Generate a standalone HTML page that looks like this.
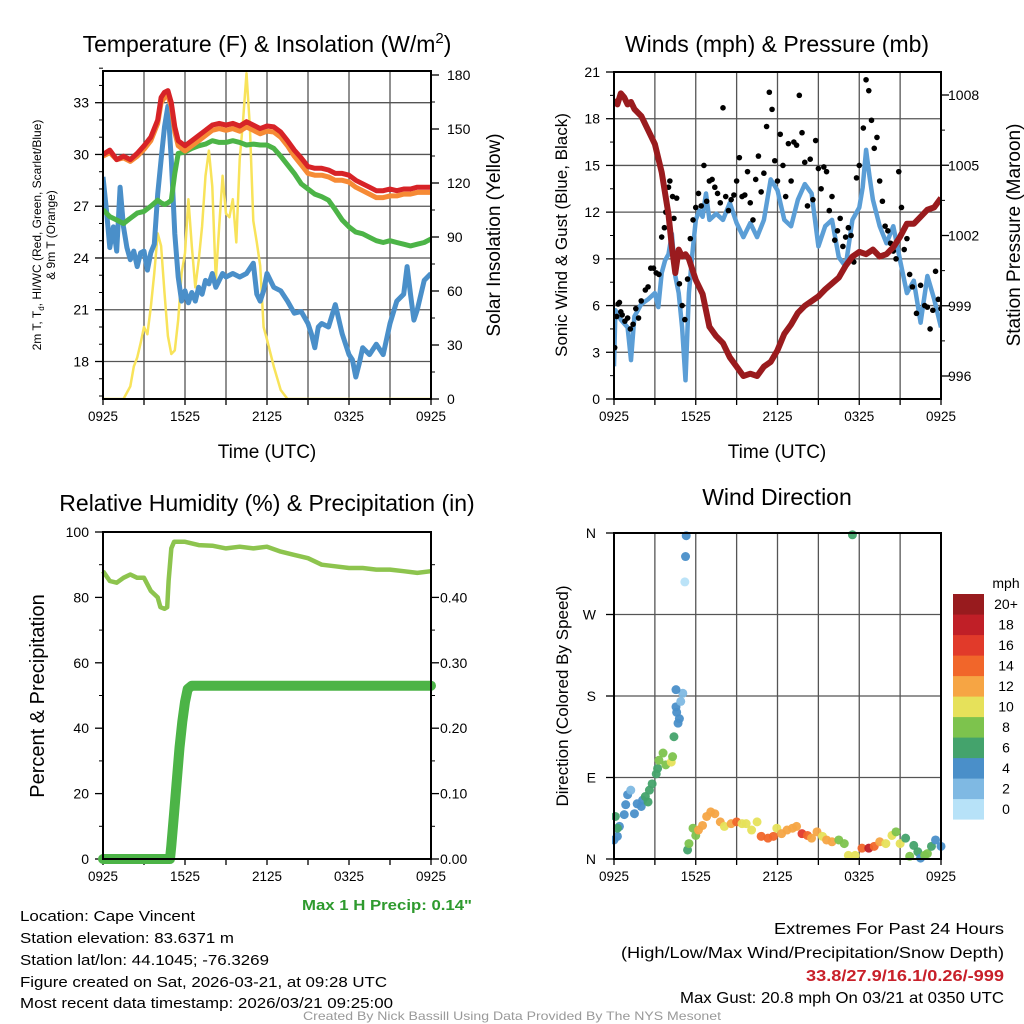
<!DOCTYPE html>
<html><head><meta charset="utf-8"><style>
body{margin:0;background:#fff}
svg{display:block;font-family:"Liberation Sans",sans-serif}
</style></head><body>
<svg id="fig" width="1024" height="1024" viewBox="0 0 1024 1024" xmlns="http://www.w3.org/2000/svg">
<rect width="1024" height="1024" fill="#fff"/>
<g id="g1"></g>
<g id="g2"></g>
<g id="g3"></g>
<g id="g4"></g>
<g id="foot"></g>
</svg>
<script>
// ---------- DATA ----------
const xTickLabels = ["0925","1525","2125","0325","0925"];
// Temperature panel (hours since 0925)
const tempHours = [0,0.5,1,1.5,2,2.5,3,3.5,4,4.25,4.5,4.75,5,5.25,5.5,6,6.5,7,7.5,8,8.5,9,9.5,10,10.5,11,11.5,12,12.5,13,13.5,14,14.5,15,15.5,16,16.5,17,17.5,18,18.5,19,19.5,20,20.5,21,21.5,22,22.5,23,23.5,24];
const tempRed = [30,30.25,29.7,29.9,29.7,30.06,30.5,31,32,33.3,33.6,33.7,33,31.6,30.8,30.5,30.8,31.1,31.4,31.7,31.8,31.7,31.8,31.65,31.9,31.7,31.5,31.65,31.6,31.3,30.8,30.25,29.8,29.3,29.2,29.2,29.1,28.9,28.9,28.8,28.5,28.3,28.1,27.9,27.9,28,27.9,28,28,28.1,28.1,28.1];
const tempOrange = [29.9,30.1,29.7,29.8,29.6,29.9,30.3,30.8,31.8,33.0,33.3,33.4,32.8,31.3,30.5,30.2,30.5,30.8,31.1,31.4,31.5,31.4,31.5,31.35,31.6,31.4,31.2,31.35,31.3,31.0,30.5,29.9,29.4,28.9,28.8,28.8,28.7,28.5,28.5,28.4,28.1,27.9,27.7,27.5,27.5,27.6,27.6,27.7,27.7,27.8,27.8,27.8];
const tempGreen = [26.8,26.4,26.2,26,26.3,26.6,26.7,27,27.35,27.2,27.1,27.2,27.35,28.9,30.06,30.15,30.35,30.5,30.6,30.8,30.7,30.7,30.8,30.7,30.55,30.6,30.55,30.55,30.35,29.9,29.4,28.9,28.3,28,27.7,27.55,27.35,26.8,26.2,25.8,25.5,25.4,25.2,25,24.9,25,24.9,24.8,24.7,24.8,24.9,25.1];
const blueHours = [0,0.25,0.5,0.75,1,1.25,1.5,1.75,2,2.25,2.5,2.75,3,3.25,3.5,3.75,4,4.25,4.5,4.75,5,5.25,5.5,5.75,6,6.25,6.5,6.75,7,7.25,7.5,7.75,8,8.25,8.5,8.75,9,9.5,10,10.5,11,11.25,11.5,11.75,12,12.5,13,13.5,14,14.5,15,15.25,15.5,15.75,16,16.5,17,17.5,18,18.25,18.5,18.75,19,19.5,20,20.5,21,21.5,22,22.25,22.5,22.75,23,23.5,24];
const tempBlue = [28.7,26.8,24.6,25.8,24.4,28.1,25.8,24.6,23.9,24.4,23.5,24.3,24.4,23.3,24.3,24.8,27.7,29.7,31.6,32.8,29.7,25.4,22.9,21.5,22.1,21.4,22,21.5,22.3,21.9,22.7,22.5,23.1,22.3,22.7,23.1,22.9,23.1,22.9,23.1,23.7,21.9,21.5,22.1,23.1,22.3,22.1,21.5,20.8,20.9,20.2,19.6,18.8,20,20.2,20,21.3,19.6,18.4,18.1,17.1,17.9,18.8,18.4,19,18.4,20.2,21.5,21.9,23.5,21.9,20.4,21,22.7,23.1];
const solarHours = [0,1.5,2,2.25,2.5,2.75,3,3.25,3.5,3.75,4,4.25,4.5,4.75,5,5.25,5.5,5.75,6,6.25,6.5,6.75,7,7.25,7.5,7.75,8,8.25,8.5,8.75,9,9.25,9.5,9.75,10,10.25,10.5,10.75,11,11.25,11.5,11.75,12,12.5,13,13.5,24];
const solar = [0,0,7,18,23,31,40,36,51,70,92,85,59,35,25,27,44,70,81,111,85,62,77,96,124,138,118,66,96,124,103,101,111,87,133,155,181,151,99,87,74,40,33,18,5,0,0];
const tempTicks = [18,21,24,27,30,33];
const solarTicks = [0,30,60,90,120,150,180];
// Winds panel
const presHours = [0,0.25,0.5,0.75,1,1.25,1.5,2,2.5,3,3.5,4,4.25,4.5,4.75,5,5.25,5.5,6,6.5,7,7.5,8,8.5,9,9.5,10,10.5,11,11.5,12,12.5,13,13.5,14,14.5,15,15.5,16,16.5,17,17.5,18,18.5,19,19.5,20,20.5,21,21.5,22,22.5,23,23.5,24];
const pressure = [1007.8,1007.6,1008.07,1007.9,1007.6,1007.7,1007.4,1007.1,1006.5,1005.9,1004.7,1002.9,1001.5,1000.4,1001.4,1001.1,1001.2,1001,1000.1,999.5,998.1,997.7,997.4,996.8,996.4,996,996.1,996,996.4,996.6,997.1,997.8,998.2,998.7,999,999.2,999.4,999.7,999.95,1000.2,1000.7,1001.1,1001.3,1001.2,1001.4,1001.1,1001.2,1001.5,1001.95,1002.5,1002.5,1002.8,1003.1,1003.2,1003.6];
const windHours = [0,0.1,0.5,1,1.25,1.5,2,2.5,3,3.25,3.5,3.75,4,4.25,4.5,4.75,5,5.25,5.5,5.75,6,6.25,6.5,6.75,7,7.5,8,8.5,9,9.5,10,10.5,11,11.25,11.5,12,12.5,13,13.5,14,14.5,15,15.5,16,16.5,17,17.5,18,18.25,18.5,18.75,19,19.5,20,20.5,21,21.5,22,22.5,23,23.5,24];
const windSpeed = [2.1,5.7,5.1,4.6,2.5,5.3,6.1,6.4,6.8,5.9,8.1,8.9,9.3,10.6,7.9,6.8,4.6,1.2,6.8,9.3,11.5,12.1,11.7,13.2,11.5,11.9,11.5,12.6,11.3,10.4,11.3,10.4,11.5,12.8,14.1,13.4,11.5,11.1,12.8,13.8,13.2,9.8,11.1,11.5,9.1,8.5,11.5,12.3,13.6,16,14.3,12.8,11.1,10,11.1,8.9,6.8,7.6,4.9,7.9,6.4,4.6];
const gustHours = [0.05,0.2,0.3,0.4,0.5,0.6,0.8,1,1.2,1.4,1.6,1.8,2,2.3,2.5,2.7,2.9,3.1,3.3,3.5,3.7,3.8,4,4.1,4.3,4.4,4.6,4.8,5,5.2,5.4,5.6,5.8,6,6.2,6.4,6.6,6.8,7,7.2,7.4,7.6,7.8,8,8.2,8.4,8.6,8.8,9,9.2,9.4,9.6,9.8,10,10.2,10.4,10.6,10.8,11,11.2,11.4,11.6,11.8,12,12.2,12.4,12.6,12.8,13,13.2,13.4,13.6,13.8,14,14.2,14.4,14.6,14.8,15,15.2,15.4,15.6,15.8,16,16.2,16.4,16.6,16.8,17,17.2,17.4,17.6,17.8,18,18.3,18.5,18.7,18.9,19.1,19.3,19.5,19.7,19.9,20.1,20.3,20.5,20.7,20.9,21.1,21.3,21.5,21.7,21.9,22.2,22.5,22.8,23,23.2,23.4,23.6,23.8,24];
const gusts = [3.3,5.3,6.1,6.2,5.6,5.4,5,5.2,4.5,4.8,5.8,5.2,6.3,7,7.2,8.4,8.4,8.1,8,10.4,11,12,13.6,14,13,11.6,12.9,7.4,6,5.1,7.7,10.3,11.5,12.3,13.2,12.4,15,12.7,14,14.1,13.6,13.2,12.6,18.7,13,12.1,12.8,13.1,14,15.5,13,13.1,14.6,12.6,11.5,14.1,15.6,13.3,14.5,17.5,19.7,18.6,15.3,14,17,15,13,16.4,14,16.5,16.3,19.5,17.1,15.2,12.4,15.4,12.8,16.6,14.8,13.5,14.9,14.6,12.1,13,10.2,10.8,11.6,9.8,10.4,11,10.5,8.8,14.2,15,17.4,20.5,19.8,17.9,16.1,16.8,14,12.7,11.1,10.8,10,9.5,9,14.6,12.3,9.6,10.3,8,7.2,5.5,7.3,6,5.9,4.5,5.7,8.2,6.4,5.8];
const windTicks = [0,3,6,9,12,15,18,21];
const presTicks = [996,999,1002,1005,1008];
// RH / precip panel
const rhHours = [0,0.5,1,1.5,2,2.5,3,3.5,4,4.2,4.5,4.7,4.8,5,5.2,6,7,8,9,10,11,12,13,14,15,16,17,18,19,20,21,22,23,24];
const rh = [88,85,84.5,86,87,86,86,82,80,77,76.5,77,85,95,97,97,96,95.8,95,95.5,95,95.5,94,93,92,90,89.5,89,89,88.5,88.5,88,87.5,88];
const precipHours = [0,4.9,5,5.2,5.4,5.6,5.8,6,6.2,6.5,24];
const precip = [0,0,0.02,0.07,0.12,0.17,0.21,0.24,0.26,0.265,0.265];
const rhTicks = [0,20,40,60,80,100];
const precipTicks = ["0.00","0.10","0.20","0.30","0.40"];
// Wind direction panel
const dirHours = [0,0.25,0.4,0.1,0.25,0.75,0.86,1,1.23,1.5,1.7,2,2.1,2.3,2.5,2.6,2.8,3.1,3.2,3.3,3.6,3.8,4.2,4.3,4.4,4.7,4.8,4.6,4.55,4.9,5.05,4.55,5.2,5.25,5.3,17.5,5.4,5.5,5.8,6,6.2,6.5,6.8,7.1,7.4,7.8,8.1,8.6,9,9.4,9.7,10.1,10.5,10.8,11.3,11.7,11.95,12.3,12.7,13.1,13.4,13.8,14.2,14.5,14.9,15.3,15.6,16,16.5,16.9,17.2,17.7,18.2,18.7,19.1,19.5,19.95,20.4,20.7,21,21.4,21.7,22,22.3,22.5,22.8,23,23.3,23.6,24];
const dirDeg = [21,25,36,47,34,49,60,71,76,50,61,58,65,69,63,76,83,94,100,109,117,104,107,113,135,150,155,162,168,174,183,187,306,334,357,358,10,17,34,26,32,37,47,52,50,41,36,39,41,39,39,32,41,25,23,25,34,28,32,34,36,28,26,23,30,25,21,19,21,17,4,4,12,12,14,19,17,26,30,17,23,3,15,8,1,4,6,14,21,14];
const dirSpeed = [4,4,4,6,6,4,4,4,2,4,4,4,4,6,6,6,6,6,6,8,8,8,10,8,6,4,4,4,4,2,2,4,0,4,4,6,6,8,8,8,12,12,12,12,12,12,10,12,14,10,10,10,10,14,14,14,10,12,12,12,12,16,14,12,12,10,12,12,8,8,10,10,14,18,14,12,10,10,8,10,6,8,6,6,4,8,8,6,4,4];
const speedColors = ["#b7e2f8","#7fb9e3","#4a8fc9","#44a36c","#7dc34d","#e6e15a","#f6a544","#f1662a","#e13a2a","#c01f27","#981b1e"];
const speedLabels = ["0","2","4","6","8","10","12","14","16","18","20+"];
const dirLabels = ["N","E","S","W","N"];

// ---------- HELPERS ----------
const NS="http://www.w3.org/2000/svg";
function mk(parent,tag,attrs,txt){const e=document.createElementNS(NS,tag);for(const k in attrs)e.setAttribute(k,attrs[k]);if(txt!==undefined)e.textContent=txt;parent.appendChild(e);return e;}
function lin(d0,d1,r0,r1){return v=>r0+(v-d0)/(d1-d0)*(r1-r0);}
function pathFrom(xs,ys,fx,fy){return xs.map((h,i)=>(i?"L":"M")+fx(h).toFixed(1)+","+fy(ys[i]).toFixed(1)).join("");}
function txt(parent,x,y,s,size,anchor,extra){const a=Object.assign({x:x,y:y,"font-size":size,"text-anchor":anchor||"middle",fill:"#000"},extra||{});return mk(parent,"text",a,s);}

function frame(g,L,T,R,B,opts){
  const fx=lin(0,24,L,R);
  // vertical grid
  if(opts.vgrid){for(let h=3;h<24;h+=3){const l=mk(g,"line",{x1:fx(h),x2:fx(h),y1:T,y2:B,stroke:"#555","stroke-width":1.3});
    
    }}
  // x ticks
  for(let h=0;h<=24;h+=3){mk(g,"line",{x1:fx(h),x2:fx(h),y1:B,y2:B+6,stroke:"#000","stroke-width":1.3});}
  xTickLabels.forEach((s,i)=>{const t=txt(g,fx(i*6),B+22,s,14,"middle",{textLength:30,lengthAdjust:"spacingAndGlyphs"});
    
    });
  return fx;
}
function box(g,L,T,R,B){const r=mk(g,"rect",{x:L,y:T,width:R-L,height:B-T,fill:"none",stroke:"#000","stroke-width":2});
  
  }

// ---------- PANEL 1 ----------
(function(){
  const g=document.getElementById("g1");const L=103,T=71,R=431,B=399;
  const fy=lin(33,18,102.7,361.5), fs=lin(0,180,399,75);
  const fx=frame(g,L,T,R,B,{vgrid:true});
  tempTicks.forEach(v=>{mk(g,"line",{x1:L,x2:R,y1:fy(v),y2:fy(v),stroke:"#555","stroke-width":1.3});
    mk(g,"line",{x1:L-8,x2:L,y1:fy(v),y2:fy(v),stroke:"#000","stroke-width":1.3});
    const t=txt(g,L-14,fy(v)+5,String(v),14,"end");
    
    });
  for(let v=16;v<=35;v++){if(v%3)mk(g,"line",{x1:L-4,x2:L,y1:fy(v),y2:fy(v),stroke:"#000","stroke-width":1});}
  solarTicks.forEach(v=>{mk(g,"line",{x1:R,x2:R+8,y1:fs(v),y2:fs(v),stroke:"#000","stroke-width":1.3});
    const t=txt(g,R+16,fs(v)+5,String(v),14,"start");
    
    });
  for(let v=15;v<180;v+=30)mk(g,"line",{x1:R,x2:R+4,y1:fs(v),y2:fs(v),stroke:"#000","stroke-width":1});
  const cp=mk(g,"clipPath",{id:"c1"});mk(cp,"rect",{x:L,y:T,width:R-L,height:B-T});
  const s=mk(g,"g",{"clip-path":"url(#c1)"});
  const ys=mk(s,"path",{d:pathFrom(solarHours,solar,fx,fs),fill:"none",stroke:"#f8e35a","stroke-width":2.5,"stroke-linejoin":"round"});
  
  
  const gb=mk(s,"path",{d:pathFrom(blueHours,tempBlue,fx,fy),fill:"none",stroke:"#4a8fc9","stroke-width":5,"stroke-linejoin":"round"});
  
  
  const gg=mk(s,"path",{d:pathFrom(tempHours,tempGreen,fx,fy),fill:"none",stroke:"#4cb447","stroke-width":5,"stroke-linejoin":"round"});
  
  
  const go=mk(s,"path",{d:pathFrom(tempHours,tempOrange,fx,fy),fill:"none",stroke:"#f68a35","stroke-width":5,"stroke-linejoin":"round"});
  
  
  const gr=mk(s,"path",{d:pathFrom(tempHours,tempRed,fx,fy),fill:"none",stroke:"#d72327","stroke-width":5,"stroke-linejoin":"round"});
  
  
  box(g,L,T,R,B);
  const t1=mk(g,"text",{x:267,y:52,"font-size":23,"text-anchor":"middle"});
  t1.textContent="Temperature (F) & Insolation (W/m";
  mk(t1,"tspan",{dy:-9,"font-size":15},"2");mk(t1,"tspan",{dy:9},")");
  
  
  const yl=mk(g,"text",{x:0,y:0,"font-size":12,"text-anchor":"middle",transform:"translate(41,235) rotate(-90)"});
  yl.textContent="2m T, T";mk(yl,"tspan",{"font-size":8,dy:3},"d");mk(yl,"tspan",{dy:-3},", HI/WC (Red, Green, Scarlet/Blue)");
  
  
  const yl2=mk(g,"text",{x:0,y:0,"font-size":12,"text-anchor":"middle",transform:"translate(55,235) rotate(-90)"},"& 9m T (Orange)");
  
  
  const yr=mk(g,"text",{x:0,y:0,"font-size":19,"text-anchor":"middle",transform:"translate(500,235) rotate(-90)"},"Solar Insolation (Yellow)");
  
  
  const xl=txt(g,267,458,"Time (UTC)",19);
  
  
})();

// ---------- PANEL 2 ----------
(function(){
  const g=document.getElementById("g2");const L=614,T=72,R=941,B=399;
  const fy=lin(0,21,399,72), fp=lin(1008,996,95,376);
  const fx=frame(g,L,T,R,B,{vgrid:true});
  windTicks.forEach(v=>{if(v>0&&v<21)mk(g,"line",{x1:L,x2:R,y1:fy(v),y2:fy(v),stroke:"#555","stroke-width":1.3});
    mk(g,"line",{x1:L-8,x2:L,y1:fy(v),y2:fy(v),stroke:"#000","stroke-width":1.3});
    const t=txt(g,L-14,fy(v)+5,String(v),14,"end");
    
    });
  for(let v=1.5;v<21;v+=3)mk(g,"line",{x1:L-4,x2:L,y1:fy(v),y2:fy(v),stroke:"#000","stroke-width":1});
  presTicks.forEach(v=>{mk(g,"line",{x1:R,x2:R+8,y1:fp(v),y2:fp(v),stroke:"#000","stroke-width":1.3});
    const t=txt(g,R+7,fp(v)+5,String(v),14,"start");
    
    });
  for(let v=997.5;v<1008;v+=3)mk(g,"line",{x1:R,x2:R+4,y1:fp(v),y2:fp(v),stroke:"#000","stroke-width":1});
  const cp=mk(g,"clipPath",{id:"c2"});mk(cp,"rect",{x:L,y:T-8,width:R-L,height:B-T+8});
  const s=mk(g,"g",{"clip-path":"url(#c2)"});
  const wl=mk(s,"path",{d:pathFrom(windHours,windSpeed,fx,fy),fill:"none",stroke:"#5b9ed6","stroke-width":4.5,"stroke-linejoin":"round"});
  
  
  gustHours.forEach((h,i)=>{const c=mk(s,"circle",{cx:fx(h),cy:fy(gusts[i]),r:2.8,fill:"#000"});
    
    });
  const pl=mk(s,"path",{d:pathFrom(presHours,pressure,fx,fp),fill:"none",stroke:"#9a1b1e","stroke-width":6,"stroke-linejoin":"round"});
  
  
  box(g,L,T,R,B);
  const t=txt(g,777,52,"Winds (mph) & Pressure (mb)",23);
  
  
  const yl=mk(g,"text",{x:0,y:0,"font-size":17,"text-anchor":"middle",transform:"translate(567,235) rotate(-90)"},"Sonic Wind & Gust (Blue, Black)");
  
  
  const yr=mk(g,"text",{x:0,y:0,"font-size":19,"text-anchor":"middle",transform:"translate(1020,235) rotate(-90)"},"Station Pressure (Maroon)");
  
  
  const xl=txt(g,777,458,"Time (UTC)",19);
  
  
})();

// ---------- PANEL 3 ----------
(function(){
  const g=document.getElementById("g3");const L=103,T=532,R=431,B=859;
  const fy=lin(0,100,859,532), fp=lin(0,0.5,859,532);
  const fx=frame(g,L,T,R,B,{vgrid:false});
  rhTicks.forEach(v=>{mk(g,"line",{x1:L-8,x2:L,y1:fy(v),y2:fy(v),stroke:"#000","stroke-width":1.3});
    const t=txt(g,L-14,fy(v)+5,String(v),14,"end");
    
    });
  for(let v=10;v<100;v+=20)mk(g,"line",{x1:L-4,x2:L,y1:fy(v),y2:fy(v),stroke:"#000","stroke-width":1});
  precipTicks.forEach(s=>{const v=parseFloat(s);mk(g,"line",{x1:R,x2:R+8,y1:fp(v),y2:fp(v),stroke:"#000","stroke-width":1.3});
    const t=txt(g,R+9,fp(v)+5,s,14,"start");
    
    });
  for(let v=0.05;v<0.5;v+=0.1)mk(g,"line",{x1:R,x2:R+4,y1:fp(v),y2:fp(v),stroke:"#000","stroke-width":1});
  const pr=mk(g,"path",{d:pathFrom(precipHours,precip,fx,fp),fill:"none",stroke:"#4cb447","stroke-width":10,"stroke-linejoin":"round","stroke-linecap":"round"});
  
  
  const rl=mk(g,"path",{d:pathFrom(rhHours,rh,fx,fy),fill:"none",stroke:"#8dc44e","stroke-width":4.5,"stroke-linejoin":"round"});
  
  
  box(g,L,T,R,B);
  const t=txt(g,267,511,"Relative Humidity (%) & Precipitation (in)",23);
  
  
  const yl=mk(g,"text",{x:0,y:0,"font-size":20,"text-anchor":"middle",transform:"translate(44,696) rotate(-90)"},"Percent & Precipitation");
  
  
})();

// ---------- PANEL 4 ----------
(function(){
  const g=document.getElementById("g4");const L=614,T=533,R=941,B=859;
  const fy=lin(0,360,859,533);
  const fx=frame(g,L,T,R,B,{vgrid:true});
  dirLabels.forEach((s,i)=>{const v=i*90;if(i>0&&i<4)mk(g,"line",{x1:L,x2:R,y1:fy(v),y2:fy(v),stroke:"#555","stroke-width":1.3});
    mk(g,"line",{x1:L-8,x2:L,y1:fy(v),y2:fy(v),stroke:"#000","stroke-width":1.3});
    const t=txt(g,L-18,fy(v)+5,s,14,"end");
    
    });
  const cp=mk(g,"clipPath",{id:"c4"});mk(cp,"rect",{x:L-2,y:T-8,width:R-L+10,height:B-T+12});
  const s=mk(g,"g",{"clip-path":"url(#c4)"});
  dirHours.forEach((h,i)=>{const ci=Math.min(10,Math.round(dirSpeed[i]/2));
    const c=mk(s,"circle",{cx:fx(h),cy:fy(dirDeg[i]),r:4.5,fill:speedColors[ci],"fill-opacity":0.95});
    
    });
  box(g,L,T,R,B);
  const t=txt(g,777,505,"Wind Direction",23);
  
  
  const yl=mk(g,"text",{x:0,y:0,"font-size":17,"text-anchor":"middle",transform:"translate(568,696) rotate(-90)"},"Direction (Colored By Speed)");
  
  
  // colorbar
  const cb=mk(g,"g",{});
  
  
  const mt=txt(cb,1006,588,"mph",14);
  
  
  speedColors.forEach((c,i)=>{const y=594+(10-i)*20.5;
    const r=mk(cb,"rect",{x:953,y:y,width:31,height:20.6,fill:c});
    
    
    const l=txt(cb,1006,y+15,speedLabels[i],14);
    
    });
})();

// ---------- FOOTER ----------
(function(){
  const g=document.getElementById("foot");
  const lines=[["Location: Cape Vincent",921,175],["Station elevation: 83.6371 m",943,214],["Station lat/lon: 44.1045; -76.3269",965,249],["Figure created on Sat, 2026-03-21, at 09:28 UTC",987,367],["Most recent data timestamp: 2026/03/21 09:25:00",1008,373]];
  lines.forEach(l=>{const t=txt(g,20,l[1],l[0],15,"start",{textLength:l[2],lengthAdjust:"spacingAndGlyphs"});
    
    });
  const p=txt(g,387,910,"Max 1 H Precip: 0.14\"",15,"middle",{fill:"#2e9a2e","font-weight":"bold",textLength:170,lengthAdjust:"spacingAndGlyphs"});
  
  
  const r=[["Extremes For Past 24 Hours",934,230,"#000","normal"],["(High/Low/Max Wind/Precipitation/Snow Depth)",958,383,"#000","normal"],["33.8/27.9/16.1/0.26/-999",981,198,"#c8202a","bold"],["Max Gust: 20.8 mph On 03/21 at 0350 UTC",1003,324,"#000","normal"]];
  r.forEach(l=>{const t=txt(g,1004,l[1],l[0],16,"end",{textLength:l[2],lengthAdjust:"spacingAndGlyphs",fill:l[3],"font-weight":l[4]});
    
    });
  const c=txt(g,512,1020,"Created By Nick Bassill Using Data Provided By The NYS Mesonet",12,"middle",{fill:"#999",textLength:418,lengthAdjust:"spacingAndGlyphs"});
  
  
})();
</script>
</body></html>
